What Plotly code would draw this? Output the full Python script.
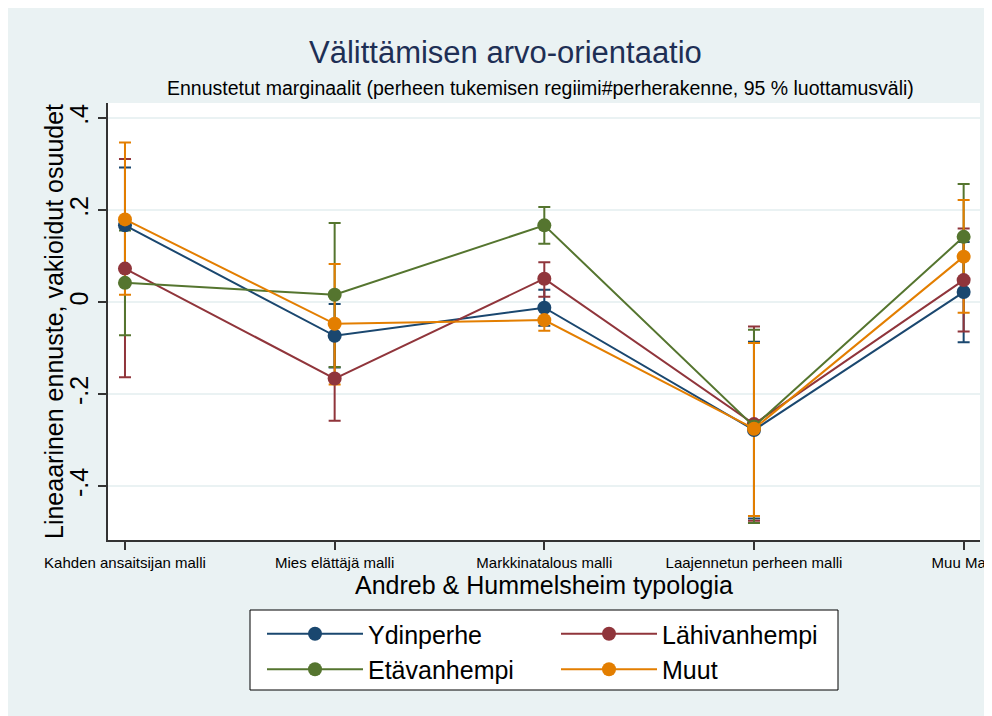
import plotly.graph_objects as go

categories = ["Kahden ansaitsijan malli", "Mies elättäjä malli", "Markkinatalous malli",
              "Laajennetun perheen malli", "Muu Malli"]
series_names = ["Ydinperhe", "Lähivanhempi", "Etävanhempi", "Muut"]

ydinperhe = [0.167, -0.073, -0.012, -0.278, 0.022]
ydinperhe_hi = [0.293, -0.004, 0.027, -0.086, 0.131]
ydinperhe_lo = [0.041, -0.142, -0.051, -0.470, -0.087]

lahivanhempi = [0.073, -0.166, 0.051, -0.265, 0.048]
lahivanhempi_hi = [0.311, -0.074, 0.087, -0.053, 0.160]
lahivanhempi_lo = [-0.163, -0.258, 0.012, -0.475, -0.064]

etavanhempi = [0.042, 0.016, 0.167, -0.270, 0.142]
etavanhempi_hi = [0.156, 0.172, 0.207, -0.060, 0.257]
etavanhempi_lo = [-0.072, -0.141, 0.127, -0.480, 0.027]

muut = [0.180, -0.047, -0.039, -0.275, 0.099]
muut_hi = [0.347, 0.083, -0.016, -0.089, 0.222]
muut_lo = [0.016, -0.179, -0.062, -0.465, -0.023]

ytick_vals = [0.4, 0.2, 0, -0.2, -0.4]
ytick_text = [".4", ".2", "0", "-.2", "-.4"]

colors = ["#1a476f", "#90353b", "#55752f", "#e37e00"]
legend_ids = ["legend", "legend2", "legend", "legend2"]
data = [
    (ydinperhe, ydinperhe_hi, ydinperhe_lo),
    (lahivanhempi, lahivanhempi_hi, lahivanhempi_lo),
    (etavanhempi, etavanhempi_hi, etavanhempi_lo),
    (muut, muut_hi, muut_lo),
]

xpos = list(range(len(categories)))
FONT = "Liberation Sans, Arial, sans-serif"

# layout geometry (pixels, figure coordinates; page adds an 8px body margin)
W, H = 992, 716
OFF = 8
L, R, T, B = 100, 20, 95, 184
PW, PH = W - L - R, H - T - B


def px_x(x):
    return (x - OFF - L) / PW


def px_y(y):
    return (H - B - (y - OFF)) / PH


fig = go.Figure()

# confidence intervals first (drawn beneath lines)
for (m, hi, lo), c in zip(data, colors):
    fig.add_trace(go.Scatter(
        x=xpos, y=m, mode="markers",
        marker=dict(size=1, color="rgba(0,0,0,0)"),
        error_y=dict(type="data", symmetric=False,
                     array=[h - v for h, v in zip(hi, m)],
                     arrayminus=[v - l for v, l in zip(m, lo)],
                     color=c, thickness=2, width=6),
        showlegend=False, hoverinfo="skip"))

for name, (m, hi, lo), c, lg in zip(series_names, data, colors, legend_ids):
    fig.add_trace(go.Scatter(
        x=xpos, y=m, mode="lines+markers", name=name, legend=lg,
        line=dict(color=c, width=2),
        marker=dict(color=c, size=14)))

legend_common = dict(orientation="v", xanchor="left", yanchor="top",
                     bgcolor="rgba(0,0,0,0)", borderwidth=0,
                     font=dict(size=25, family=FONT, color="black"),
                     itemwidth=96, tracegroupgap=0)

fig.update_layout(
    width=W, height=H,
    paper_bgcolor="#eaf2f3", plot_bgcolor="white",
    margin=dict(l=L, r=R, t=T, b=B),
    font=dict(family=FONT, color="black"),
    showlegend=True,
    legend=dict(x=px_x(262), y=px_y(611), **legend_common),
    legend2=dict(x=px_x(556), y=px_y(611), **legend_common),
    shapes=[dict(type="rect", xref="paper", yref="paper",
                 x0=px_x(250), x1=px_x(838), y0=px_y(690), y1=px_y(610),
                 line=dict(color="black", width=1), fillcolor="white", layer="below")],
    annotations=[
        dict(text="Välittämisen arvo-orientaatio", xref="paper", yref="paper",
             x=px_x(505), y=px_y(52), xanchor="center", yanchor="middle",
             showarrow=False, font=dict(size=31, color="#1e2f55", family=FONT)),
        dict(text="Ennustetut marginaalit (perheen tukemisen regiimi#perherakenne, 95 % luottamusväli)",
             xref="paper", yref="paper",
             x=px_x(540), y=px_y(88), xanchor="center", yanchor="middle",
             showarrow=False, font=dict(size=19.5, color="black", family=FONT)),
        dict(text="Lineaarinen ennuste, vakioidut osuudet", xref="paper", yref="paper",
             x=px_x(54), y=px_y(322), xanchor="center", yanchor="middle", textangle=-90,
             showarrow=False, font=dict(size=25, color="black", family=FONT)),
    ],
)

fig.update_xaxes(
    range=[-0.081, 4.078], tickvals=xpos, ticktext=categories,
    tickfont=dict(size=15, family=FONT, color="black"),
    ticks="outside", ticklen=8, tickwidth=1.5, tickcolor="#333333",
    showline=True, linecolor="#333333", linewidth=2,
    showgrid=False, zeroline=False, automargin=False, ticklabeloverflow="allow",
    title=dict(text="Andreb & Hummelsheim typologia", font=dict(size=25, family=FONT, color="black"),
               standoff=0),
)
fig.update_yaxes(
    range=[-0.517, 0.433], tickvals=ytick_vals, ticktext=ytick_text,
    tickangle=-90, tickfont=dict(size=25, family=FONT, color="black"),
    ticks="outside", ticklen=8, tickwidth=1.5, tickcolor="#333333",
    showline=True, linecolor="#333333", linewidth=2,
    showgrid=True, gridcolor="#eaf2f3", gridwidth=2, zeroline=False, automargin=False,
)

fig.write_html("out.html")
